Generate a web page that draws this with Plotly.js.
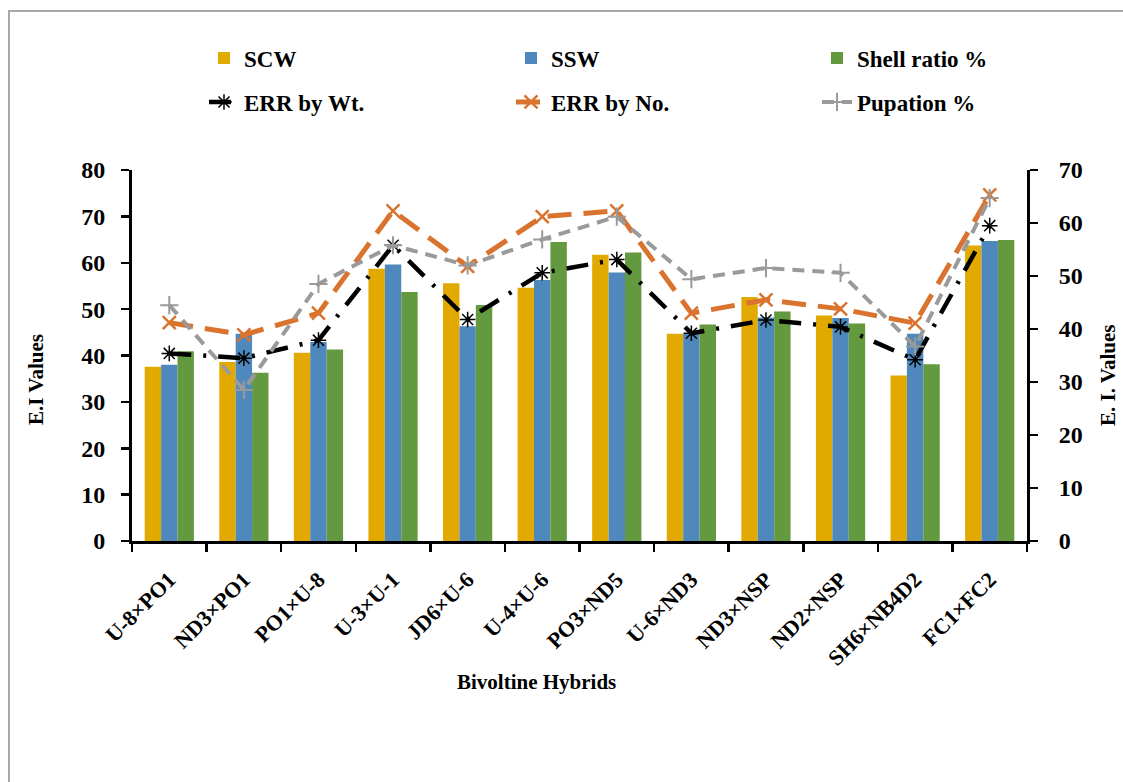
<!DOCTYPE html>
<html>
<head>
<meta charset="utf-8">
<script src="https://cdn.plot.ly/plotly-3.0.1.min.js"></script>
<style>
  html, body { margin: 0; padding: 0; background: #fff; overflow: hidden; }
  #wrap { position: relative; width: 1123px; height: 782px; }
  #chart { position: absolute; left: 0; top: 0; width: 1123px; height: 782px; }
  #frame { position: absolute; left: 8px; top: 10px; width: 1200px; height: 900px;
           border-left: 2px solid #A8A8A8; border-top: 2px solid #A8A8A8; pointer-events: none; }
</style>
</head>
<body>
<div id="wrap"><div id="chart"></div><div id="frame"></div></div>
<script>
// ---- data ----
const hybrids = ["U-8×PO1", "ND3×PO1", "PO1×U-8", "U-3×U-1", "JD6×U-6", "U-4×U-6",
                 "PO3×ND5", "U-6×ND3", "ND3×NSP", "ND2×NSP", "SH6×NB4D2", "FC1×FC2"];
const scw        = [37.6, 38.6, 40.6, 58.7, 55.6, 54.6, 61.7, 44.7, 52.6, 48.6, 35.7, 63.7];
const ssw        = [38.0, 44.7, 42.9, 59.6, 46.3, 56.3, 57.9, 44.7, 48.2, 48.1, 44.7, 64.7];
const shellRatio = [40.9, 36.3, 41.3, 53.7, 50.9, 64.5, 62.2, 46.7, 49.5, 46.9, 38.1, 64.9];
const errByWt    = [35.4, 34.5, 37.9, 55.8, 41.8, 50.6, 53.1, 39.2, 41.7, 40.4, 34.2, 59.5];
const errByNo    = [41.2, 38.9, 43.0, 62.3, 51.8, 61.2, 62.3, 43.0, 45.5, 43.8, 41.1, 65.3];
const pupation   = [44.5, 28.5, 48.5, 55.8, 52.0, 56.9, 61.2, 49.4, 51.5, 50.6, 36.7, 64.7];
const leftTicks  = [0, 10, 20, 30, 40, 50, 60, 70, 80];
const rightTicks = [0, 10, 20, 30, 40, 50, 60, 70];

const FAM = '"Liberation Serif", "Times New Roman", "DejaVu Serif", serif';
const bold = (size) => ({ family: FAM, size: size, color: '#000', weight: 700 });

const traces = [
  { type: 'bar', name: 'SCW', x: hybrids, y: scw, marker: { color: '#E2AA00' }, legend: 'legend' },
  { type: 'bar', name: 'SSW', x: hybrids, y: ssw, marker: { color: '#4F88BD' }, legend: 'legend2' },
  { type: 'bar', name: 'Shell ratio %', x: hybrids, y: shellRatio, marker: { color: '#639A3F' }, legend: 'legend3' },
  { type: 'scatter', mode: 'lines+markers', name: 'ERR by Wt.', x: hybrids, y: errByWt, yaxis: 'y2',
    line: { color: '#000000', width: 4.5, dash: '22px,12px,3px,12px' },
    marker: { symbol: 'asterisk-open', size: 13, color: '#000', line: { color: '#000', width: 1.5 } },
    legend: 'legend4' },
  { type: 'scatter', mode: 'lines+markers', name: 'ERR by No.', x: hybrids, y: errByNo, yaxis: 'y2',
    line: { color: '#D9732E', width: 5, dash: '24px,12px' },
    marker: { symbol: 'x-thin-open', size: 13, color: '#D9732E', line: { color: '#D9732E', width: 2.5 } },
    legend: 'legend5' },
  { type: 'scatter', mode: 'lines+markers', name: 'Pupation %', x: hybrids, y: pupation, yaxis: 'y2',
    line: { color: '#9A9A9A', width: 4, dash: '12px,8px' },
    marker: { symbol: 'cross-thin-open', size: 13, color: '#9A9A9A', line: { color: '#9A9A9A', width: 2 } },
    legend: 'legend6' }
];

function leg(px, py) {
  return {
    orientation: 'h', xref: 'container', yref: 'container', xanchor: 'left', yanchor: 'middle',
    x: px / 1123, y: 1 - py / 782,
    font: bold(23), bgcolor: 'rgba(0,0,0,0)', itemclick: false, itemdoubleclick: false
  };
}
const colX = [204, 511, 817];
const rowY = [58, 102];

// plot area: x 132..1027, y 170..541
const PX = (px) => (px - 132) / 895;
const PY = (py) => (541 - py) / 371;

const layout = {
  width: 1123, height: 782,
  margin: { l: 132, r: 96, t: 170, b: 241, pad: 0 },
  paper_bgcolor: '#fff', plot_bgcolor: '#fff',
  barmode: 'group', bargap: 0.34, bargroupgap: 0,
  showlegend: true,
  legend:  leg(colX[0], rowY[0]),
  legend2: leg(colX[1], rowY[0]),
  legend3: leg(colX[2], rowY[0]),
  legend4: leg(colX[0], rowY[1]),
  legend5: leg(colX[1], rowY[1]),
  legend6: leg(colX[2], rowY[1]),
  xaxis: {
    type: 'category', range: [-0.5, hybrids.length - 0.5], autorange: false,
    tickson: 'boundaries', ticks: 'outside', ticklen: 8, tickwidth: 2.5, tickcolor: '#000',
    showline: true, linecolor: '#000', linewidth: 3, showgrid: false, zeroline: false,
    tickangle: -45, tickfont: bold(22), ticklabelstandoff: 14, automargin: false
  },
  yaxis: {
    range: [0, 80], autorange: false, tickvals: leftTicks, ticktext: leftTicks.map(String),
    ticks: 'outside', ticklen: 8, tickwidth: 2.5, tickcolor: '#000',
    showline: true, linecolor: '#000', linewidth: 3, showgrid: false, zeroline: false,
    tickfont: bold(24), ticklabelposition: 'outside', ticklabelstandoff: 11, automargin: false
  },
  yaxis2: {
    range: [0, 70], autorange: false, tickvals: rightTicks, ticktext: rightTicks.map(String),
    overlaying: 'y', side: 'right', anchor: 'x',
    ticks: 'outside', ticklen: 8, tickwidth: 2.5, tickcolor: '#000',
    showline: true, linecolor: '#000', linewidth: 3, showgrid: false, zeroline: false,
    tickfont: bold(24), ticklabelposition: 'outside', ticklabelstandoff: 16, automargin: false
  },
  annotations: [
    { text: 'Bivoltine Hybrids', xref: 'paper', yref: 'paper', x: PX(536), y: PY(682),
      xanchor: 'center', yanchor: 'middle', showarrow: false, font: bold(21) },
    { text: 'E.I Values', xref: 'paper', yref: 'paper', x: PX(36), y: PY(380),
      xanchor: 'center', yanchor: 'middle', showarrow: false, textangle: -90, font: bold(21) },
    { text: 'E. I. Values', xref: 'paper', yref: 'paper', x: PX(1108), y: PY(375),
      xanchor: 'center', yanchor: 'middle', showarrow: false, textangle: -90, font: bold(21) }
  ]
};

Plotly.newPlot('chart', traces, layout, { displayModeBar: false, staticPlot: true });
</script>
</body>
</html>
